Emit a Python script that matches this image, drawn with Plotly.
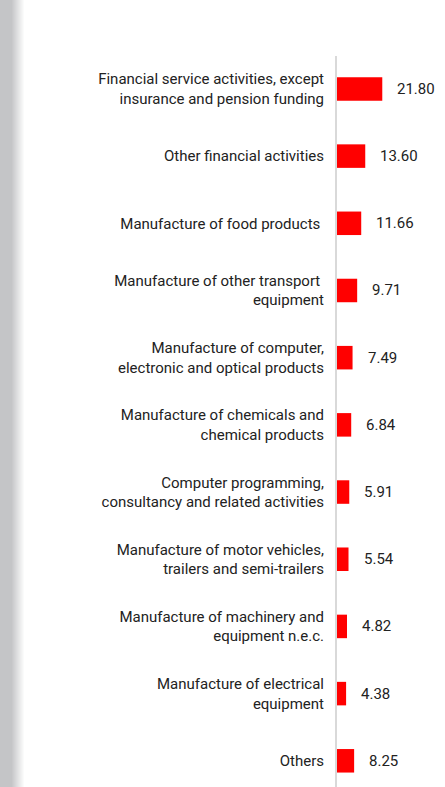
import plotly.graph_objects as go

# Sectors, top to bottom, and their shares (%)
sectors = [
    "Financial service activities, except<br>insurance and pension funding",
    "Other financial activities",
    "Manufacture of food products ",
    "Manufacture of other transport <br>equipment",
    "Manufacture of computer,<br>electronic and optical products",
    "Manufacture of chemicals and<br>chemical products",
    "Computer programming,<br>consultancy and related activities",
    "Manufacture of motor vehicles,<br>trailers and semi-trailers",
    "Manufacture of machinery and<br>equipment n.e.c.",
    "Manufacture of electrical<br>equipment",
    "Others",
]
shares = [21.80, 13.60, 11.66, 9.71, 7.49, 6.84, 5.91, 5.54, 4.82, 4.38, 8.25]
share_labels = [f"{v:.2f}" for v in shares]

W, H = 445, 787
AXIS_X = 337  # px position of the category axis
PLOT_TOP = 56  # px from top where plot area starts

FONT = "Source Sans Pro, Liberation Sans Narrow, Roboto, sans-serif"
TEXT = "#222222"

fig = go.Figure(
    go.Bar(
        x=shares,
        y=sectors,
        orientation="h",
        marker=dict(color="#ff0000", line=dict(width=0)),
        width=0.35,
        hoverinfo="skip",
    )
)

# value labels just right of each bar
for s, v, t in zip(sectors, shares, share_labels):
    fig.add_annotation(
        x=v, y=s, text=t, showarrow=False,
        xanchor="left", yanchor="middle", xshift=13,
        font=dict(family=FONT, size=15, color=TEXT),
    )

# soft grey edge on the left of the page
shapes = [dict(type="rect", xref="paper", yref="paper", x0=0, x1=12 / W,
               y0=0, y1=1, line=dict(width=0), fillcolor="rgb(196,197,199)",
               layer="below")]
steps = 12
for i in range(steps):
    f = (i + 1) / (steps + 1)
    c = [int(round(a + (255 - a) * f)) for a in (196, 197, 199)]
    shapes.append(dict(type="rect", xref="paper", yref="paper",
                       x0=(12 + i) / W, x1=(13 + i) / W, y0=0, y1=1,
                       line=dict(width=0), fillcolor=f"rgb({c[0]},{c[1]},{c[2]})",
                       layer="below"))

n = len(sectors)
fig.update_layout(
    width=W, height=H,
    margin=dict(l=0, r=0, t=0, b=0),
    paper_bgcolor="white", plot_bgcolor="white",
    showlegend=False,
    shapes=shapes,
    font=dict(family=FONT, size=15, color=TEXT),
    xaxis=dict(domain=[AXIS_X / W, 1], range=[0, 52], visible=False,
               fixedrange=True),
    yaxis=dict(
        domain=[0, 1 - PLOT_TOP / H],
        type="category",
        range=[n - 1 + 0.39, -0.49],
        showline=True, linecolor="#d9d9d9", linewidth=2,
        showgrid=False, zeroline=False, ticks="",
        ticklabelstandoff=8,
        tickfont=dict(family=FONT, size=15, color=TEXT),
        automargin=False,
    ),
)

fig.write_html("out.html")
